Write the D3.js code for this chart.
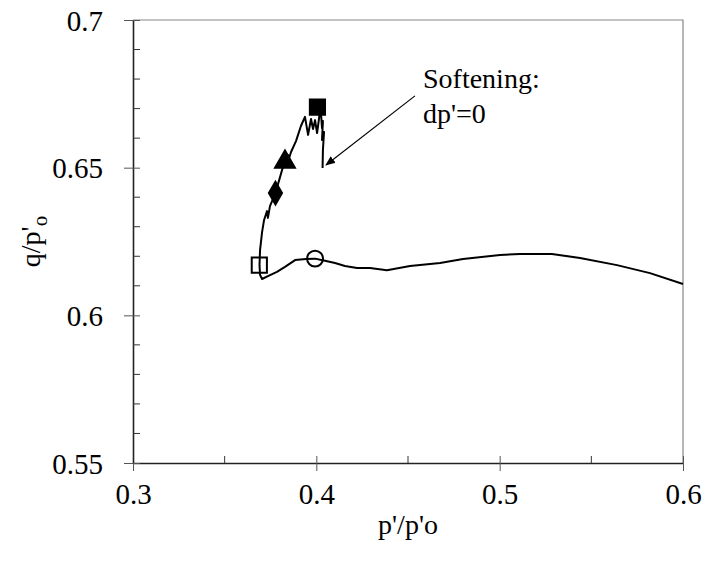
<!DOCTYPE html>
<html><head><meta charset="utf-8">
<script src="https://cdn.jsdelivr.net/npm/d3@7"></script>
<style>body{margin:0;background:#fff}svg{display:block}</style>
</head><body><svg id="c" width="704" height="563"></svg>
<script>
// stress path p'/p'o
const pPath = [0.6000,0.5820,0.5640,0.5438,0.5285,0.5111,0.5002,0.4800,0.4675,0.4511,0.4385,0.4293,0.4222,0.4156,0.4102,0.4053,0.3993,0.3944,0.3884,0.3829,0.3785,0.3736,0.3704,0.3693,0.3690,0.3693,0.3704,0.3715,0.3731,0.3736,0.3747,0.3777,0.3802,0.3824,0.3845,0.3840,0.3862,0.3889,0.3916,0.3938,0.3955,0.3971,0.3982,0.3993,0.4004,0.4015,0.4020,0.4025,0.4031,0.4036,0.4031,0.4042,0.4036,0.4034];
const qPath = [0.6106,0.6143,0.6170,0.6194,0.6208,0.6208,0.6204,0.6191,0.6177,0.6167,0.6153,0.6160,0.6160,0.6167,0.6177,0.6184,0.6192,0.6191,0.6187,0.6164,0.6147,0.6133,0.6123,0.6137,0.6170,0.6221,0.6282,0.6323,0.6353,0.6330,0.6370,0.6414,0.6468,0.6516,0.6543,0.6509,0.6553,0.6590,0.6641,0.6672,0.6611,0.6665,0.6631,0.6661,0.6617,0.6668,0.6702,0.6688,0.6634,0.6658,0.6594,0.6621,0.6560,0.6499];
// markers
const markerTypes = ["openSquare","openCircle","diamond","triangle","filledSquare"];
const markerP = [0.3689,0.3993,0.3777,0.3829,0.4006];
const markerQ = [0.6170,0.6192,0.6414,0.6519,0.6705];
// axis ticks
const xTicks = [0.3,0.4,0.5,0.6];
const xMinor = [0.35,0.45,0.55];
const yTicks = [0.55,0.6,0.65,0.7];
const yMinor = [0.56,0.57,0.58,0.59,0.61,0.62,0.63,0.64,0.66,0.67,0.68,0.69];
// annotation
const annText = ["Softening:","dp'=0"];
const arrowFrom = [0.4538,0.6743];
const arrowTo = [0.4053,0.6509];

const FONT = "Liberation Serif";
const svg = d3.select("#c").attr("font-family", FONT);
const m = {l:133,r:21,t:20,b:100};
const W = 704, H = 563;
const x = d3.scaleLinear().domain([0.3,0.6]).range([m.l, W-m.r]);
const y = d3.scaleLinear().domain([0.55,0.7]).range([H-m.b, m.t]);

// frame (top & right, gray)
svg.append("path").attr("d",`M${x(0.3)},${y(0.7)}H${x(0.6)}V${y(0.55)}`)
  .attr("fill","none").attr("stroke","#888").attr("stroke-width",1.2);

// x axis
const gx = svg.append("g").attr("transform",`translate(0,${y(0.55)})`);
gx.call(d3.axisBottom(x).tickValues(xTicks).tickSize(8).tickSizeOuter(0).tickFormat(d3.format(".1f")));
gx.attr("font-family",FONT).attr("font-size",29);
gx.selectAll(".tick line").clone().attr("y2",-7);
gx.append("g").selectAll("line").data(xMinor).join("line")
  .attr("x1",d=>x(d)).attr("x2",d=>x(d)).attr("y1",0).attr("y2",-7).attr("stroke","#333");
gx.select(".domain").attr("stroke","#222").attr("stroke-width",1.6);
gx.selectAll(".tick line").attr("stroke","#555");
gx.selectAll(".tick text").attr("font-family",FONT).attr("dy","1.05em").attr("fill","#000");

// y axis
const gy = svg.append("g").attr("transform",`translate(${x(0.3)},0)`);
gy.call(d3.axisLeft(y).tickValues(yTicks).tickSize(9).tickSizeOuter(0).tickFormat(d=>String(+d.toFixed(2))));
gy.attr("font-family",FONT).attr("font-size",29);
gy.selectAll(".tick line").clone().attr("x2",7);
gy.append("g").selectAll("line").data(yMinor).join("line")
  .attr("y1",d=>y(d)).attr("y2",d=>y(d)).attr("x1",0).attr("x2",7).attr("stroke","#333");
gy.select(".domain").attr("stroke","#222").attr("stroke-width",1.6);
gy.selectAll(".tick line").attr("stroke","#555");
gy.selectAll(".tick text").attr("font-family",FONT).attr("x",-30).attr("dy","0.35em").attr("fill","#000");

// axis titles
svg.append("text").attr("x",(x(0.3)+x(0.6))/2).attr("y",534).attr("text-anchor","middle")
  .attr("font-family",FONT).attr("font-size",28).text("p'/p'o");
const yl = svg.append("text").attr("transform",`translate(40,${(y(0.55)+y(0.7))/2}) rotate(-90)`)
  .attr("text-anchor","middle").attr("font-family",FONT).attr("font-size",28);
yl.append("tspan").text("q/p'");
yl.append("tspan").attr("dy",7).attr("font-size",21).text("o");

// path
const pts = pPath.map((p,i)=>[p,qPath[i]]);
svg.append("path").datum(pts)
  .attr("d",d3.line().x(d=>x(d[0])).y(d=>y(d[1])))
  .attr("fill","none").attr("stroke","#000").attr("stroke-width",2).attr("stroke-linejoin","round");

// markers
const sym = {openSquare:[d3.symbolSquare,230,false],openCircle:[d3.symbolCircle,200,false],
  diamond:[d3.symbolDiamond,150,true],triangle:[d3.symbolTriangle,170,true],filledSquare:[d3.symbolSquare,230,true]};
markerTypes.forEach((t,i)=>{
  const [s,size,filled] = sym[t];
  svg.append("path").attr("d",d3.symbol(s,size)())
    .attr("transform",`translate(${x(markerP[i])},${y(markerQ[i])})`)
    .attr("fill",filled?"#000":"none").attr("stroke","#000").attr("stroke-width",2);
});

// annotation
svg.append("defs").append("marker").attr("id","ah").attr("viewBox","0 0 10 10").attr("refX",9).attr("refY",5)
  .attr("markerWidth",10).attr("markerHeight",10).attr("orient","auto").attr("markerUnits","userSpaceOnUse")
  .append("path").attr("d","M0,1L10,5L0,9Z").attr("fill","#000");
svg.append("line").attr("x1",x(arrowFrom[0])).attr("y1",y(arrowFrom[1]))
  .attr("x2",x(arrowTo[0])).attr("y2",y(arrowTo[1])).attr("stroke","#000").attr("stroke-width",1.2)
  .attr("marker-end","url(#ah)");
annText.forEach((t,i)=>{
  svg.append("text").attr("x",423).attr("y",88+i*35).attr("font-family",FONT).attr("font-size",28).text(t);
});
</script></body></html>
